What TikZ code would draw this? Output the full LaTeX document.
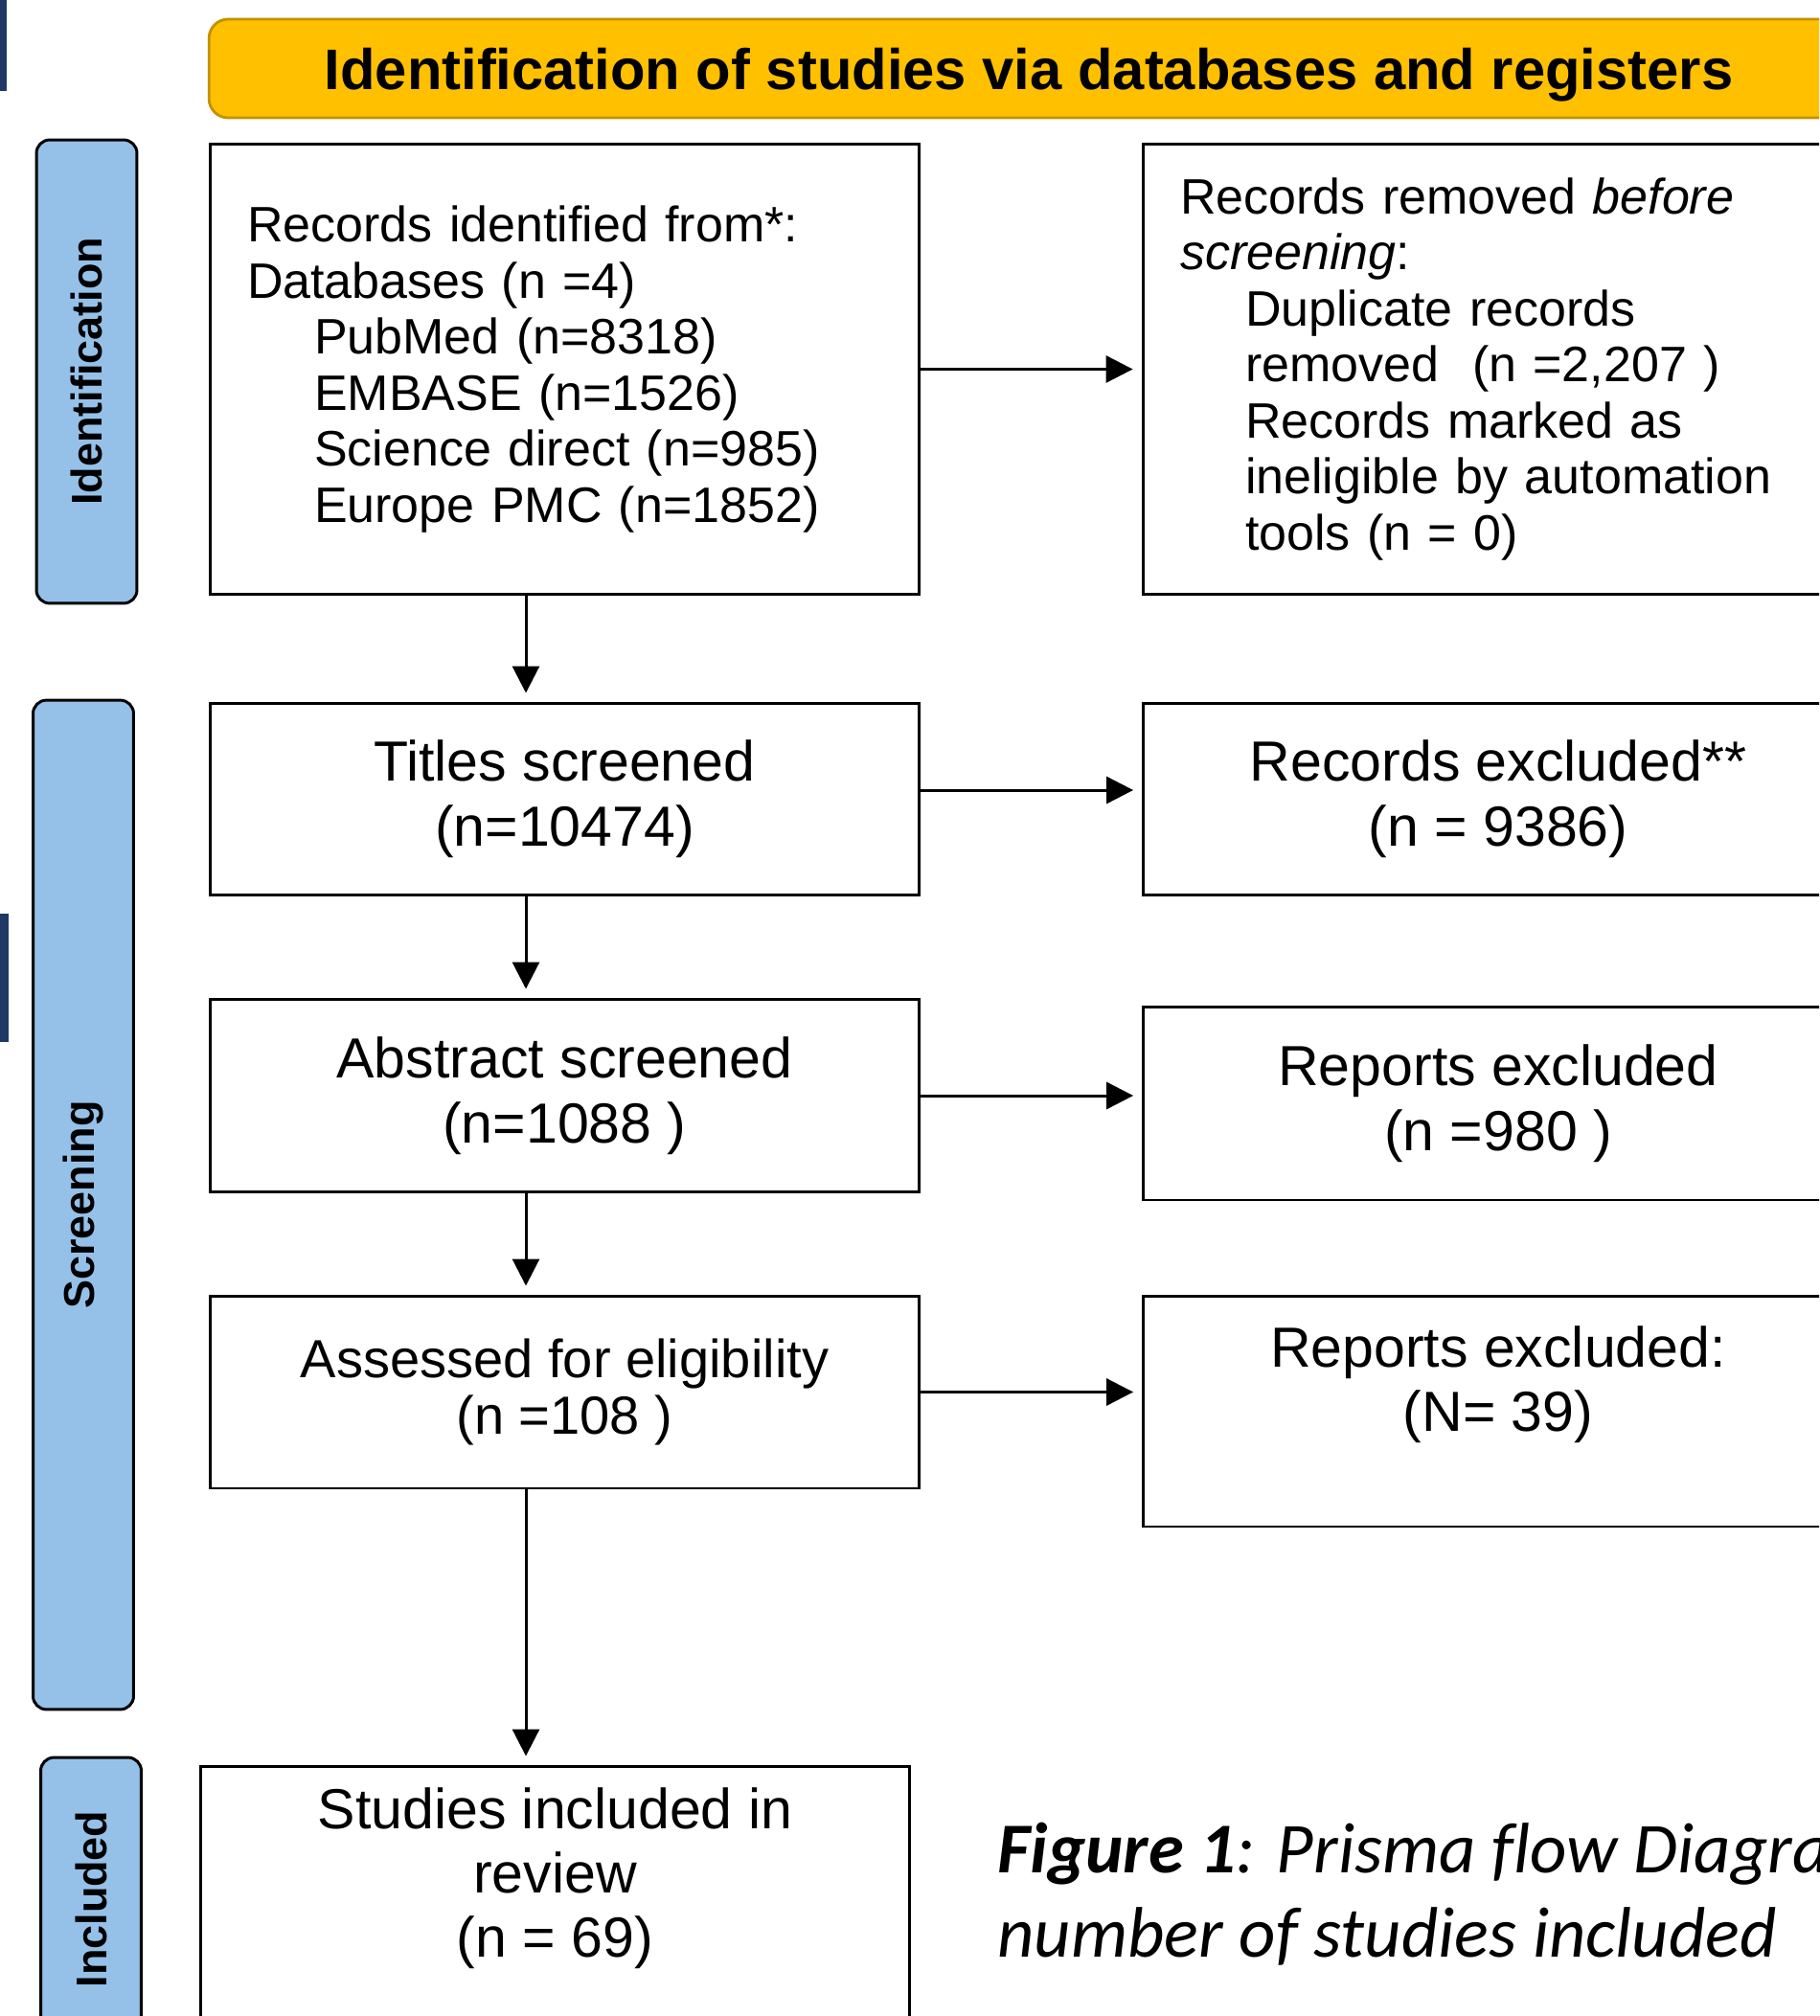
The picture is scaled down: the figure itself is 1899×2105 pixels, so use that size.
\documentclass[tikz,border=0pt]{standalone}
\usepackage{fontspec}
\setmainfont{Liberation Sans}
\newfontfamily\captionfont[Ligatures=NoCommon]{Carlito}
\usetikzlibrary{arrows.meta}

\definecolor{hdrgold}{HTML}{FFC000}
\definecolor{hdredge}{HTML}{C39200}
\definecolor{phaseblue}{HTML}{95C1E9}
\definecolor{navybar}{HTML}{1F3864}

\begin{document}
\begin{tikzpicture}[x=0.02cm, y=-0.02cm,
	box/.style={draw=black, line width=1.7pt, minimum width=14.82cm, inner sep=0pt},
	listbox/.style={box, align=left, text width=13.26cm, font=\fontsize{29.6}{33.3}\selectfont},
	midbox/.style={box, align=center, font=\fontsize{33.6}{38.7}\selectfont},
	midtext/.style={align=center, inner sep=0pt, font=\fontsize{33.6}{38.1}\selectfont},
	phase/.style={draw=black, line width=1.7pt, fill=phaseblue, rounded corners=0.28cm, rotate=90,
		minimum height=2.1cm, inner sep=0pt, font=\bfseries\fontsize{25.6}{30}\selectfont},
	arr/.style={line width=1.7pt, -{Triangle[length=0.56cm, width=0.56cm]}, shorten >=0.18cm}]
	\useasboundingbox (0,0) rectangle (1899,2105);
	\clip (0,0) rectangle (1899,2105);
	\fill[navybar] (0,0) rectangle (7,95);
	\fill[navybar] (0,954) rectangle (9,1088);
	% header and phase bars
	\node[draw=hdredge, line width=1.6pt, fill=hdrgold, rounded corners=0.4cm, minimum width=34.24cm,
		minimum height=2.06cm, text depth=0pt, inner sep=0pt, font=\bfseries\fontsize{34}{40}\selectfont]
		(header) at (1074,71.5) {Identification of studies via databases and registers};
	\node[phase, minimum width=9.68cm] (idbar) at (90.5,388) {Identification};
	\node[phase, minimum width=21.08cm] (scrbar) at (87,1258) {Screening};
	\node[phase, minimum width=5.92cm] (incbar) at (95,1983) {Included};
	% boxes
	\node[listbox, minimum height=9.42cm] (recid) at (589.5,385.5) {Records identified from*:\\
		Databases (n =4)\\
		\hspace*{1.4cm}PubMed (n=8318)\\
		\hspace*{1.4cm}EMBASE (n=1526)\\
		\hspace*{1.4cm}Science direct (n=985)\\
		\hspace*{1.4cm}Europe PMC (n=1852)};
	\node[listbox, minimum height=9.42cm] (recrem) at (1563.5,385.5) {Records removed \textit{before}\\
		\textit{screening}:\\
		\hspace*{1.36cm}Duplicate records\\
		\hspace*{1.36cm}removed\ \ (n =2,207 )\\
		\hspace*{1.36cm}Records marked as\\
		\hspace*{1.36cm}ineligible by automation\\
		\hspace*{1.36cm}tools (n = 0)};
	\node[midbox, minimum height=4.02cm] (titles) at (589.5,834.5) {Titles screened\\(n=10474)};
	\node[midbox, minimum height=4.02cm] (recex) at (1564,834.5) {Records excluded**\\(n = 9386)};
	\node[midbox, minimum height=4.04cm] (abstract) at (589.5,1144) {Abstract screened\\(n=1088 )};
	\node[midbox, minimum height=4.04cm] (repex) at (1564,1152) {Reports excluded\\(n =980 )};
	\node[midbox, minimum height=4.02cm, font=\fontsize{31.9}{33.6}\selectfont] (assessed) at (589.5,1453.5)
		{Assessed for eligibility\\(n =108 )};
	\node[box, minimum height=4.82cm, label={[midtext, anchor=north, yshift=-0.66cm]north:{Reports excluded:\\(N= 39)}}]
		(repex2) at (1564,1473.5) {};
	\node[box, minimum height=5.92cm, label={[midtext, anchor=north, yshift=-0.48cm]north:{Studies included in\\review\\(n = 69)}}]
		(studies) at (579.5,1992) {};
	% connectors
	\coordinate (spine) at (549,0);
	\draw[arr] (recid) -- (recrem);
	\draw[arr] ([yshift=.19cm]titles.east) -- ([yshift=.19cm]recex.west);
	\draw[arr] (abstract.east) -- (abstract.east -| repex.west);
	\draw[arr] (assessed.east) -- (assessed.east -| repex2.west);
	\draw[arr] (recid.south -| spine) -- (titles.north -| spine);
	\draw[arr] (titles.south -| spine) -- (abstract.north -| spine);
	\draw[arr] (abstract.south -| spine) -- (assessed.north -| spine);
	\draw[arr] (assessed.south -| spine) -- (studies.north -| spine);
	\node[anchor=north west, align=left, inner sep=0pt, font=\captionfont\itshape\fontsize{42.5}{50}\selectfont]
		(caption) at (1041,1903) {\textbf{Figure 1}: Prisma flow Diagram\\number of studies included};
\end{tikzpicture}
\end{document}
